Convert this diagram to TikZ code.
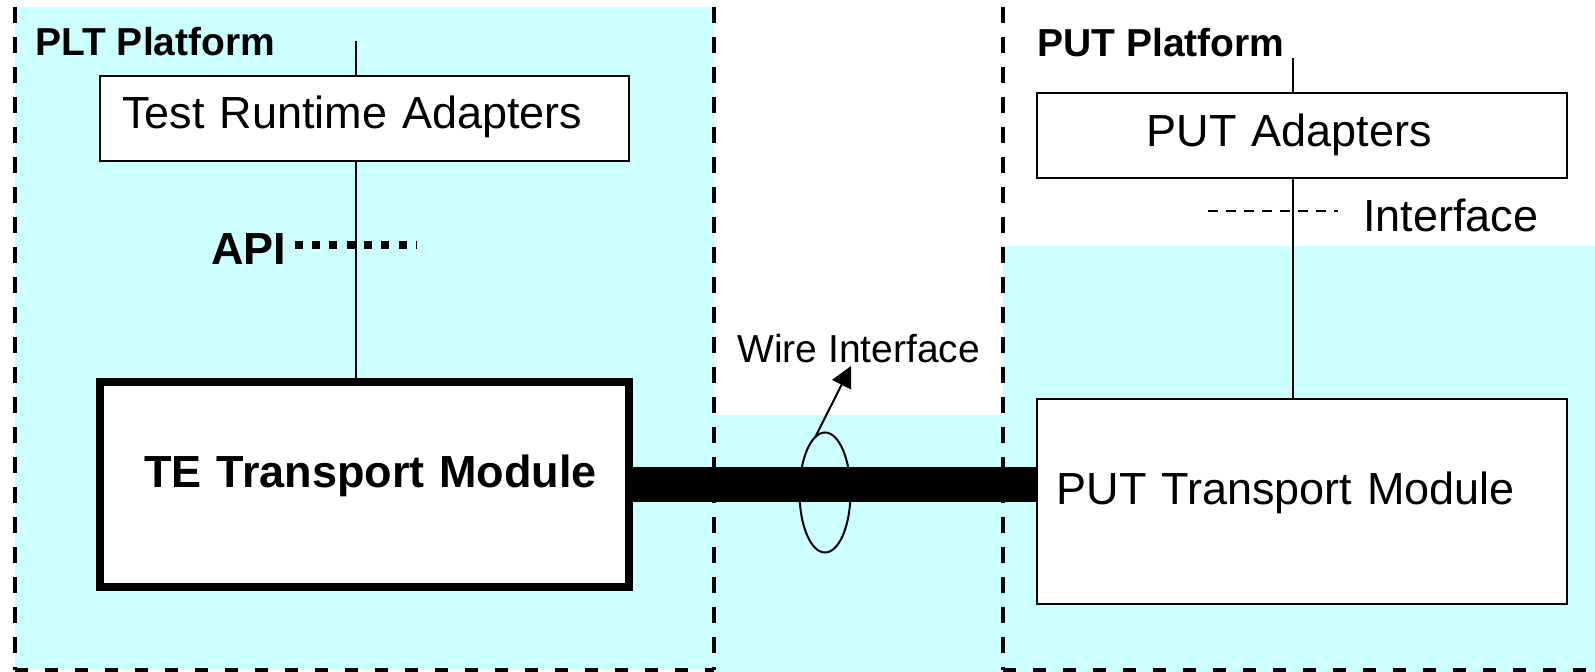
\documentclass[tikz,border=0pt]{standalone}
\usepackage{fontspec}
\setmainfont{Liberation Sans}
\usetikzlibrary{shapes.geometric,arrows.meta,calc}
\definecolor{bgcyan}{RGB}{204,255,255}
\newcommand\myBig{\fontsize{22.5pt}{27pt}\selectfont}
\newcommand\mySmall{\fontsize{19.5pt}{23pt}\selectfont}
\tikzset{
  region/.style={fill=bgcyan, draw=none},
  vborder/.style={line width=2.2pt, dash pattern=on 8pt off 7pt},
  hborder/.style={line width=2.2pt, dash pattern=on 6.5pt off 8.5pt},
  box/.style={draw, fill=white, line width=1pt, inner ysep=0pt, outer sep=0pt, anchor=north west, font=\myBig},
  conn/.style={line width=0.9pt},
  lbl/.style={inner sep=0pt, anchor=base west},
}
\begin{document}
\begin{tikzpicture}[x=0.5pt,y=-0.5pt]
\useasboundingbox (0,0) rectangle (1595,672);
% backgrounds
\fill[region] (15,7) rectangle (714,670);
\fill[region] (714,415) rectangle (1003,672);
\fill[region] (1003,246) rectangle (1595,672);
% dashed borders
\draw[vborder] (15,7) -- (15,670);
\draw[vborder] (714,7) -- (714,670);
\draw[vborder] (1003,7) -- (1003,670);
\draw[hborder] (15,670) -- (714,670);
\draw[hborder] (1003,670) -- (1595,670);
% free ends
\coordinate (plttop) at (356,41);
\coordinate (puttop) at (1293,58);
\coordinate (apiend) at (416,245);
\coordinate (ifstart) at (1208,211);
% boxes
\node[box, inner xsep=11pt, text width=242.5pt, align=left, text height=26.5pt, text depth=16pt] (tra) at (100,76) {Test Runtime Adapters};
\node[box, inner xsep=54.75pt, text width=155.5pt, align=left, text height=27pt, text depth=15.5pt] (pa) at (1037,93) {PUT Adapters};
% connectors
\draw[conn] (plttop) -- (plttop |- tra.north);
\draw[conn] (tra.south -| plttop) -- (plttop |- 0,382);
\draw[conn] (puttop) -- (puttop |- pa.north);
\draw[conn] (pa.south -| puttop) -- (puttop |- 0,399);
\node[box, line width=4pt, inner xsep=16pt, text width=232.5pt, align=right, text height=53pt, text depth=49.5pt, font=\myBig\bfseries] (te) at (100,382) {TE Transport Module};
\node[box, inner xsep=9.75pt, text width=245.5pt, align=left, text height=53pt, text depth=49.5pt] (pt) at (1037,399) {PUT Transport Module};
% wire
\draw[line width=17.5pt] (te.east) -- (te.east -| pt.west);
\node[draw, ellipse, line width=1pt, minimum width=25.5pt, minimum height=60pt, inner sep=0pt, outer sep=0pt] (wire) at (825,492.5) {};
% labels
\node[lbl, font=\mySmall\bfseries] (plt) at (35,56) {PLT Platform};
\node[lbl, font=\mySmall\bfseries] (put) at (1037,57) {PUT Platform};
\node[lbl, inner xsep=4pt, font=\myBig\bfseries] (api) at (203,265) {API};
\node[lbl, font=\mySmall] (wiret) at (737,363) {Wire Interface};
\node[lbl, inner xsep=12.5pt, font=\myBig] (iface) at (1338,232) {Interface};
% API dotted and interface dashed
\draw[line width=4pt, dash pattern=on 4pt off 4.65pt] (api.east |- apiend) -- (apiend);
\draw[line width=1.1pt, dash pattern=on 5pt off 4pt] (ifstart) -- (ifstart -| iface.west);
% arrow
\draw[line width=1pt, -{Triangle[length=10.5pt,width=10.5pt]}] (wire.100) -- ($(wiret.base west)+(114,3)$);
\end{tikzpicture}
\end{document}
